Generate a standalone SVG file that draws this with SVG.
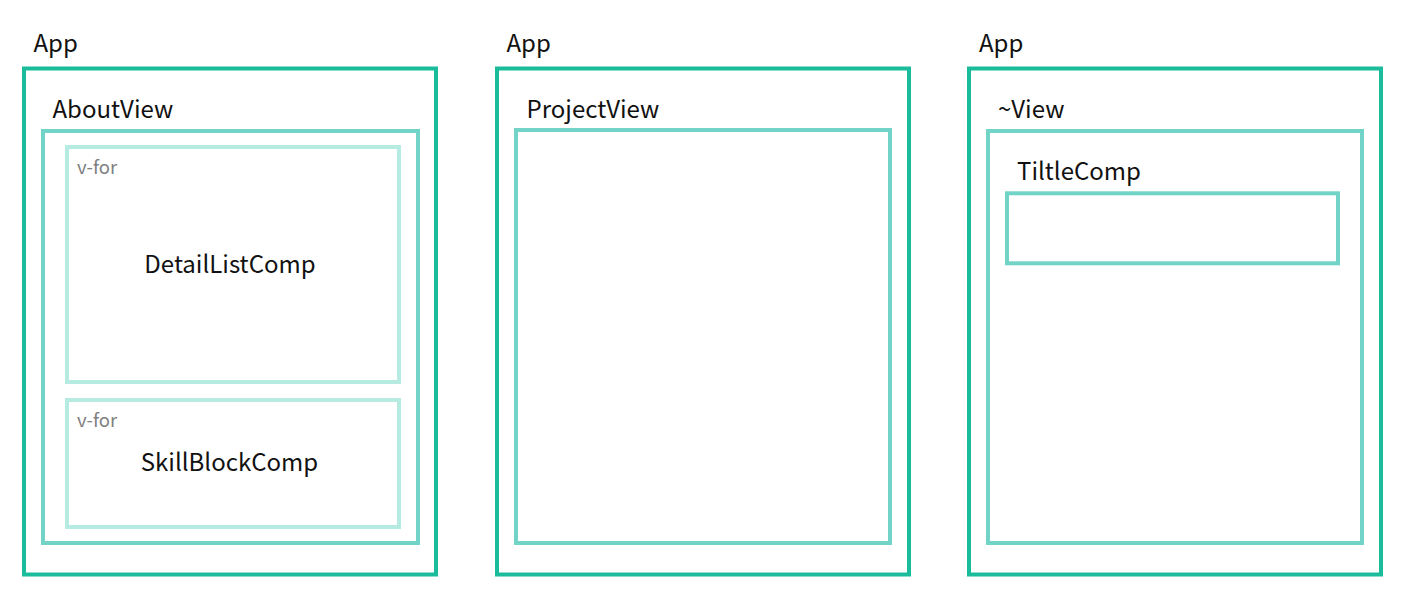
<svg xmlns="http://www.w3.org/2000/svg" width="1405" height="605" viewBox="0 0 1405 605">
<style>
  .app { fill: none; stroke: #1ABC9C; stroke-width: 4; }
  .view { fill: none; stroke: #72D3C7; stroke-width: 4; }
  .comp { fill: none; stroke: #B5EBE1; stroke-width: 4; }
  .lbl { font-family: "Noto Sans CJK KR", "Noto Sans", sans-serif; font-size: 24px; fill: #111; }
  .vfor { font-family: "Noto Sans CJK KR", "Noto Sans", sans-serif; font-size: 18.5px; fill: #808080; }
  .mid { text-anchor: middle; }
</style>
<rect width="1405" height="605" fill="#FFFFFF"/>
<g id="app1">
  <rect class="app" x="24" y="68.5" width="412" height="506"/>
  <text class="lbl" x="33.5" y="52">App</text>
</g>
<g id="aboutview">
  <rect class="view" x="43" y="131" width="375" height="412"/>
  <text class="lbl" x="52.5" y="117.5">AboutView</text>
</g>
<g id="detaillistcomp">
  <rect class="comp" x="67" y="147" width="332" height="235"/>
  <text class="vfor" x="77" y="174">v-for</text>
  <text class="lbl mid" x="230" y="272.5">DetailListComp</text>
</g>
<g id="skillblockcomp">
  <rect class="comp" x="67" y="400" width="332" height="127"/>
  <text class="vfor" x="77" y="426.5">v-for</text>
  <text class="lbl mid" x="229.5" y="471">SkillBlockComp</text>
</g>
<g id="app2">
  <rect class="app" x="497" y="68.5" width="412" height="506"/>
  <text class="lbl" x="506.5" y="52">App</text>
</g>
<g id="projectview">
  <rect class="view" x="516" y="130" width="374" height="413"/>
  <text class="lbl" x="526.5" y="117.5">ProjectView</text>
</g>
<g id="app3">
  <rect class="app" x="969" y="68.5" width="412" height="506"/>
  <text class="lbl" x="979" y="52">App</text>
</g>
<g id="anyview">
  <rect class="view" x="988" y="131" width="374" height="412"/>
  <text class="lbl" x="998" y="117.5">~View</text>
</g>
<g id="tiltlecomp">
  <rect class="view" x="1007" y="193.3" width="331" height="70"/>
  <text class="lbl" x="1017" y="179.5">TiltleComp</text>
</g>
<g id="connectors"></g>
</svg>
